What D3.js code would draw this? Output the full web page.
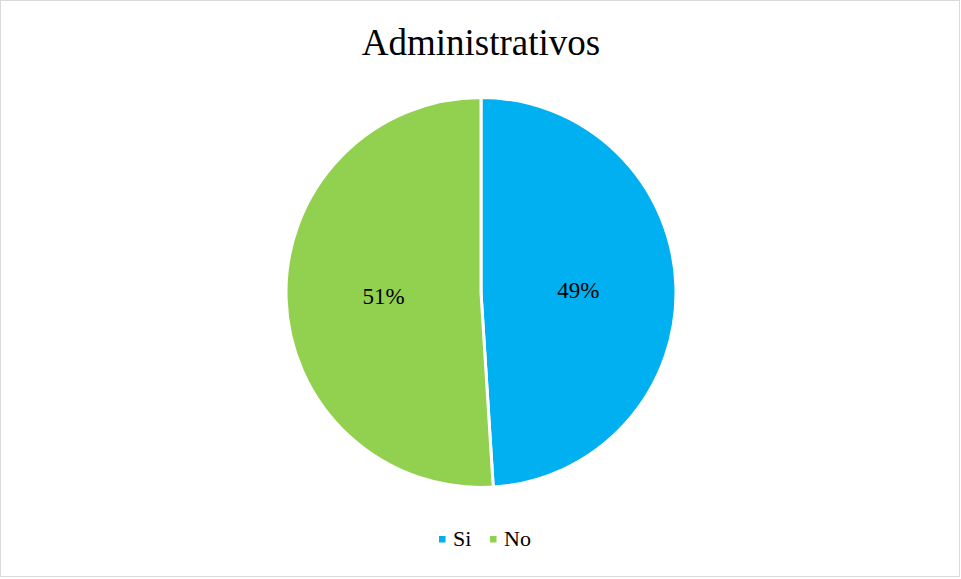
<!DOCTYPE html>
<html>
<head>
<meta charset="utf-8">
<script src="https://cdn.jsdelivr.net/npm/d3@7"></script>
<style>
  html, body { margin: 0; padding: 0; background: #fff; }
  svg { display: block; }
  text { font-family: "Liberation Serif", "Times New Roman", "DejaVu Serif", serif; }
</style>
</head>
<body>
<svg id="chart" width="961" height="579"></svg>
<script>
// Chart data
const categories = ["Si", "No"];
const values = [49, 51];
const colors = ["#00B0F0", "#92D050"];
const title = "Administrativos";

const W = 961, H = 579;
const svg = d3.select("#chart");

// Chart frame
svg.append("rect")
  .attr("x", 0.5).attr("y", 0.5)
  .attr("width", W - 2).attr("height", H - 3)
  .attr("fill", "#fff")
  .attr("stroke", "#d9d9d9")
  .attr("stroke-width", 1);

// Title
svg.append("text")
  .attr("x", 481).attr("y", 55)
  .attr("text-anchor", "middle")
  .attr("font-size", 37)
  .attr("fill", "#000")
  .text(title);

// Pie
const cx = 481, cy = 292.5, r = 195;
const pie = d3.pie().sort(null).value(d => d)(values);
const arc = d3.arc().innerRadius(0).outerRadius(r);
const labelArc = d3.arc().innerRadius(r * 0.5).outerRadius(r * 0.5);

const g = svg.append("g").attr("transform", `translate(${cx},${cy})`);
g.selectAll("path.slice")
  .data(pie)
  .join("path")
  .attr("class", "slice")
  .attr("d", arc)
  .attr("fill", (d, i) => colors[i])
  .attr("stroke", "#fff")
  .attr("stroke-width", 3)
  .attr("stroke-linejoin", "round");

const total = d3.sum(values);
g.selectAll("text.lbl")
  .data(pie)
  .join("text")
  .attr("class", "lbl")
  .attr("x", d => labelArc.centroid(d)[0])
  .attr("y", d => labelArc.centroid(d)[1])
  .attr("dy", "0.35em")
  .attr("text-anchor", "middle")
  .attr("font-size", 23)
  .attr("fill", "#000")
  .text(d => Math.round(d.value / total * 100) + "%");

// Legend
const legendItems = [
  { name: categories[0], color: colors[0], x: 439 },
  { name: categories[1], color: colors[1], x: 490 }
];
const lg = svg.append("g");
legendItems.forEach(it => {
  lg.append("rect")
    .attr("x", it.x).attr("y", 536)
    .attr("width", 6.5).attr("height", 6.5)
    .attr("fill", it.color);
  lg.append("text")
    .attr("x", it.x + 14).attr("y", 546)
    .attr("font-size", 22)
    .attr("fill", "#000")
    .text(it.name);
});
</script>
</body>
</html>
